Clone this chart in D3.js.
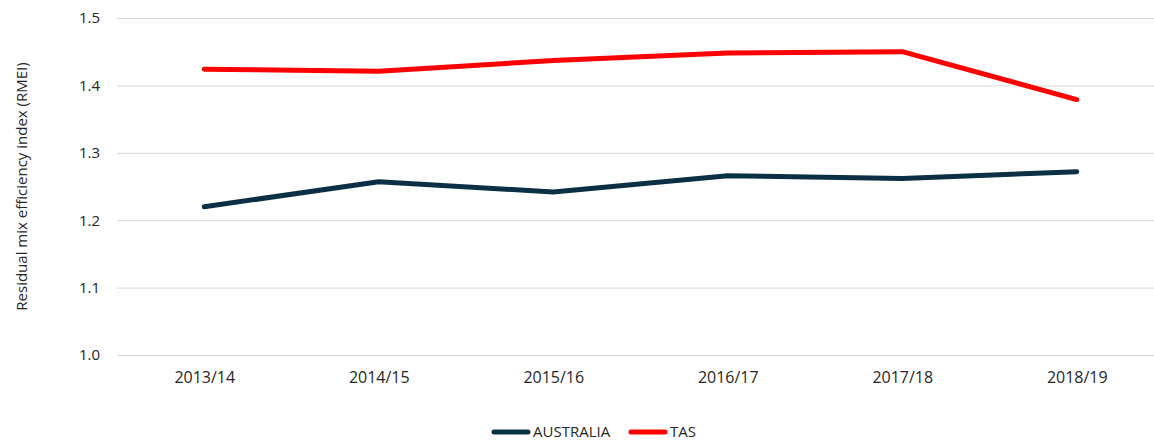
<!DOCTYPE html>
<html>
<head>
<meta charset="utf-8">
<script src="https://cdn.jsdelivr.net/npm/d3@7"></script>
<style>
  body { margin: 0; background: #fff; }
  text { font-family: "Open Sans", "Noto Sans", sans-serif; fill: #262626; }
</style>
</head>
<body>
<div id="chart"></div>
<script>
const years = ["2013/14", "2014/15", "2015/16", "2016/17", "2017/18", "2018/19"];
const australia = [1.220, 1.257, 1.242, 1.266, 1.262, 1.272];
const tas = [1.424, 1.421, 1.437, 1.448, 1.450, 1.379];
const yTicks = [1.0, 1.1, 1.2, 1.3, 1.4, 1.5];

const seriesList = [
  { name: "AUSTRALIA", values: australia, color: "#0b3045" },
  { name: "TAS", values: tas, color: "#ff0000" }
];

const width = 1154;
const height = 440;

const svg = d3
  .select("#chart")
  .append("svg")
  .attr("width", width)
  .attr("height", height);

const x = d3.scalePoint().domain(years).range([117, 1164]).padding(0.5);
const y = d3.scaleLinear().domain([1.0, 1.5]).range([355, 18]);

// grid lines
svg
  .append("g")
  .attr("transform", "translate(117,0)")
  .call(d3.axisLeft(y).tickValues(yTicks).tickSize(-(1164 - 117)).tickFormat(""))
  .call((g) => g.select(".domain").remove())
  .selectAll("line")
  .attr("stroke", "#d9d9d9")
  .attr("stroke-width", 1);

// y axis labels
svg
  .append("g")
  .attr("transform", "translate(100,0)")
  .call(d3.axisLeft(y).tickValues(yTicks).tickSize(0).tickFormat(d3.format(".1f")))
  .call((g) => g.select(".domain").remove())
  .selectAll("text")
  .attr("x", 0)
  .style("font-size", "15px")
  .style("font-family", "'Open Sans', sans-serif")
  .attr("fill", "#262626");

// x axis labels
svg
  .append("g")
  .attr("transform", "translate(0,355)")
  .call(d3.axisBottom(x).tickSize(0))
  .call((g) => g.select(".domain").remove())
  .selectAll("text")
  .attr("y", 17)
  .style("font-size", "16px")
  .style("font-family", "'Open Sans', sans-serif")
  .attr("fill", "#262626");

// y axis title
svg
  .append("text")
  .attr("transform", `translate(22, ${(18 + 355) / 2}) rotate(-90)`)
  .style("text-anchor", "middle")
  .attr("dy", "0.35em")
  .style("font-size", "15px")
  .text("Residual mix efficiency index (RMEI)");

const line = d3
  .line()
  .x((d, i) => x(years[i]))
  .y((d) => y(d));

seriesList.forEach((s) => {
  svg
    .append("path")
    .datum(s.values)
    .attr("fill", "none")
    .attr("stroke", s.color)
    .attr("stroke-width", 5)
    .attr("stroke-linecap", "round")
    .attr("stroke-linejoin", "round")
    .attr("d", line);
});

// legend
const legendPos = [{ x: 494, tx: 533 }, { x: 631, tx: 670 }];
seriesList.forEach((s, i) => {
  const lg = svg.append("g");
  lg.append("line")
    .attr("x1", legendPos[i].x)
    .attr("x2", legendPos[i].x + 34)
    .attr("y1", 432)
    .attr("y2", 432)
    .attr("stroke", s.color)
    .attr("stroke-width", 5)
    .attr("stroke-linecap", "round");
  lg.append("text")
    .attr("x", legendPos[i].tx)
    .attr("y", 432)
    .attr("dy", "0.35em")
    .style("font-size", "15px")
    .text(s.name);
});
</script>
</body>
</html>
